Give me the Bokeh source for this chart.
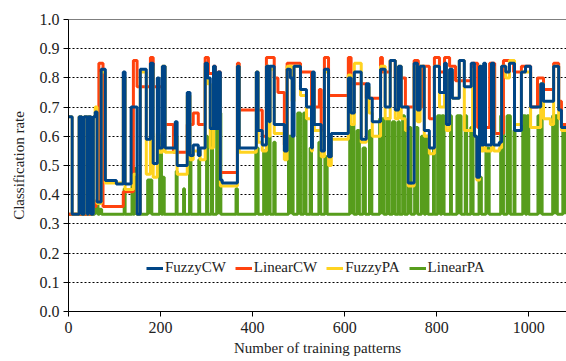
from bokeh.plotting import figure
from bokeh.models import FixedTicker, PrintfTickFormatter, Legend, LegendItem, Span, Range1d
from bokeh.embed import file_html
from bokeh.resources import INLINE

# ---------------- data (step series, value holds until next x) ----------------
fcw_x = [0, 8, 23, 29, 34, 41, 43, 49, 54, 58, 62, 71, 80, 104, 119, 123, 136, 149, 156, 169,
         178, 184, 193, 197, 204, 210, 232, 236, 258, 264, 271, 282, 286, 297, 302, 308, 315, 319,
         325, 330, 334, 367, 371, 408, 412, 421, 430, 436, 438, 447, 469, 475, 482, 486, 490, 504,
         517, 528, 530, 534, 549, 556, 565, 571, 608, 614, 621, 636, 647, 653, 660, 678, 688, 699,
         710, 717, 723, 738, 751, 758, 764, 773, 784, 795, 806, 817, 821, 828, 834, 849, 860, 875,
         882, 887, 893, 897, 902, 906, 919, 924, 936, 941, 950, 958, 969, 984, 993, 1004, 1026,
         1032, 1054, 1065, 1071, 1082]
fcw_y = [0.667, 0.333, 0.667, 0.333, 0.667, 0.333, 0.667, 0.333, 0.667, 0.683, 0.375, 0.83, 0.449,
         0.437, 0.82, 0.437, 0.70, 0.333, 0.83, 0.59, 0.85, 0.507, 0.80, 0.56, 0.84, 0.56, 0.65, 0.50,
         0.75, 0.534, 0.57, 0.534, 0.56, 0.85, 0.80, 0.627, 0.84, 0.627, 0.82, 0.45, 0.44, 0.84, 0.56,
         0.82, 0.62, 0.57, 0.84, 0.65, 0.84, 0.64, 0.55, 0.83, 0.80, 0.60, 0.84, 0.76, 0.70, 0.56,
         0.82, 0.64, 0.55, 0.83, 0.53, 0.61, 0.80, 0.68, 0.82, 0.59, 0.78, 0.73, 0.65, 0.83, 0.70,
         0.86, 0.69, 0.84, 0.70, 0.44, 0.85, 0.69, 0.84, 0.62, 0.56, 0.84, 0.75, 0.85, 0.64, 0.83,
         0.73, 0.86, 0.77, 0.85, 0.60, 0.46, 0.84, 0.57, 0.85, 0.57, 0.85, 0.57, 0.58, 0.84, 0.82,
         0.85, 0.62, 0.82, 0.84, 0.70, 0.78, 0.72, 0.84, 0.69, 0.63, 0.63]

lcw_x = [0, 50, 54, 60, 66, 75, 119, 141, 149, 178, 184, 206, 228, 258, 271, 282, 297, 304, 315,
         319, 325, 330, 367, 371, 421, 430, 447, 455, 469, 475, 504, 528, 545, 549, 556, 565, 608,
         614, 647, 678, 682, 699, 710, 723, 732, 751, 760, 769, 784, 795, 806, 817, 828, 841, 878,
         889, 915, 926, 945, 967, 984, 1004, 1019, 1032, 1054, 1065, 1071, 1082]
lcw_y = [0.333, 0.38, 0.36, 0.38, 0.85, 0.36, 0.41, 0.86, 0.77, 0.87, 0.77, 0.64, 0.545, 0.64,
         0.68, 0.64, 0.87, 0.815, 0.84, 0.78, 0.82, 0.476, 0.85, 0.69, 0.60, 0.87, 0.80, 0.75, 0.57,
         0.85, 0.82, 0.70, 0.76, 0.62, 0.87, 0.74, 0.87, 0.78, 0.73, 0.87, 0.82, 0.86, 0.80, 0.80,
         0.70, 0.86, 0.70, 0.84, 0.66, 0.87, 0.82, 0.87, 0.84, 0.79, 0.85, 0.63, 0.85, 0.61, 0.86,
         0.82, 0.84, 0.70, 0.80, 0.76, 0.85, 0.72, 0.64, 0.64]

fpa_x = [0, 8, 23, 29, 34, 41, 43, 49, 54, 58, 62, 71, 80, 119, 123, 141, 149, 156, 169, 178, 184,
         193, 197, 204, 210, 232, 236, 258, 264, 271, 286, 297, 302, 308, 315, 319, 325, 330, 367,
         371, 408, 412, 421, 430, 436, 438, 447, 469, 475, 486, 490, 504, 517, 528, 530, 534, 549,
         556, 565, 571, 608, 614, 621, 636, 647, 653, 660, 678, 688, 699, 710, 717, 723, 732, 738,
         751, 758, 764, 773, 784, 795, 806, 817, 821, 828, 834, 849, 860, 878, 882, 887, 893, 897,
         902, 906, 919, 924, 936, 941, 950, 958, 969, 984, 993, 1004, 1026, 1032, 1047, 1054, 1065,
         1071, 1082]
fpa_y = [0.667, 0.333, 0.667, 0.333, 0.667, 0.333, 0.667, 0.333, 0.667, 0.70, 0.37, 0.82, 0.44,
         0.80, 0.418, 0.47, 0.333, 0.82, 0.47, 0.84, 0.46, 0.61, 0.545, 0.84, 0.545, 0.60, 0.47,
         0.74, 0.52, 0.55, 0.52, 0.84, 0.78, 0.56, 0.82, 0.64, 0.80, 0.43, 0.84, 0.545, 0.82, 0.58,
         0.55, 0.84, 0.60, 0.83, 0.61, 0.52, 0.84, 0.72, 0.84, 0.74, 0.66, 0.55, 0.80, 0.62, 0.53,
         0.82, 0.50, 0.59, 0.81, 0.64, 0.85, 0.58, 0.77, 0.68, 0.60, 0.84, 0.66, 0.86, 0.66, 0.84,
         0.66, 0.62, 0.43, 0.84, 0.65, 0.84, 0.60, 0.54, 0.84, 0.70, 0.84, 0.62, 0.82, 0.73, 0.86,
         0.62, 0.83, 0.60, 0.45, 0.84, 0.55, 0.84, 0.55, 0.84, 0.55, 0.56, 0.84, 0.80, 0.86, 0.64,
         0.82, 0.82, 0.63, 0.78, 0.66, 0.64, 0.84, 0.66, 0.62, 0.62]

# LinearPA: sits at the 1/3 baseline, with bursts (start, end, height)
lpa_base = 0.333
lpa_start = [57, 67, 121, 138, 143, 172, 198, 205, 234, 250, 263, 283, 300, 310, 322, 364, 407,
             424, 434, 446, 478, 498, 511, 525, 544, 557, 611, 627, 640, 654, 676, 692, 704, 716,
             726, 737, 752, 767, 776, 793, 802, 811, 830, 844, 862, 874, 892, 907, 939, 953, 968,
             987, 996, 1020, 1052, 1074]
lpa_end = [64, 72, 123, 141, 148, 181, 202, 208, 236, 252, 266, 285, 302, 313, 331, 367, 412,
           428, 438, 449, 488, 504, 516, 528, 548, 562, 620, 632, 645, 659, 685, 697, 709, 719,
           730, 744, 759, 773, 781, 795, 808, 816, 832, 853, 865, 879, 897, 914, 945, 960, 970,
           993, 1000, 1029, 1062, 1082]
lpa_high = [0.37, 0.35, 0.42, 0.43, 0.49, 0.45, 0.60, 0.46, 0.48, 0.42, 0.53, 0.52, 0.60, 0.63,
            0.68, 0.42, 0.56, 0.55, 0.60, 0.58, 0.60, 0.68, 0.68, 0.56, 0.58, 0.53, 0.64, 0.62,
            0.56, 0.62, 0.66, 0.66, 0.65, 0.65, 0.67, 0.63, 0.63, 0.60, 0.60, 0.56, 0.67, 0.67,
            0.67, 0.67, 0.67, 0.63, 0.46, 0.56, 0.67, 0.67, 0.62, 0.67, 0.67, 0.67, 0.67, 0.63]

lpa_x, lpa_y = [0], [lpa_base]
for s, e, h in zip(lpa_start, lpa_end, lpa_high):
    lpa_x += [s, e]
    lpa_y += [h, lpa_base]
lpa_y[-1] = lpa_y[-2]  # last burst runs to the right edge

x_ticks = [0, 200, 400, 600, 800, 1000]
y_ticks = [0.0, 0.1, 0.2, 0.3, 0.4, 0.5, 0.6, 0.7, 0.8, 0.9, 1.0]
x_max = 1082
y_max = 1.0

names = ["FuzzyCW", "LinearCW", "FuzzyPA", "LinearPA"]
colors = ["#004586", "#ff420e", "#ffd320", "#579d1c"]

FONT = "'Liberation Serif', 'Times New Roman', serif"

p = figure(width=566, height=361, output_backend="svg", toolbar_location=None,
           x_range=Range1d(0, x_max), y_range=Range1d(0, y_max),
           min_border_left=68, min_border_right=0, min_border_top=19, min_border_bottom=50)
p.outline_line_color = None
p.background_fill_color = "white"

# LinearPA (bottom), filled columns
p.varea_step(x=lpa_x, y1=[lpa_base] * len(lpa_x), y2=lpa_y, step_mode="after",
             fill_color=colors[3])
r_lpa = p.step(lpa_x, lpa_y, mode="after", line_color=colors[3], line_width=3)
r_lcw = p.step(lcw_x, lcw_y, mode="after", line_color=colors[1], line_width=3)
r_fpa = p.step(fpa_x, fpa_y, mode="after", line_color=colors[2], line_width=3)
r_fcw = p.step(fcw_x, fcw_y, mode="after", line_color=colors[0], line_width=3)

# top border
p.add_layout(Span(location=y_max, dimension="width", line_color="black", line_width=1))

# grid
p.xgrid.grid_line_color = None
p.ygrid.ticker = FixedTicker(ticks=y_ticks)
p.ygrid.grid_line_color = "black"
p.ygrid.grid_line_dash = "2 2"
p.ygrid.grid_line_width = 1

# axes
p.xaxis.ticker = FixedTicker(ticks=x_ticks)
p.yaxis.ticker = FixedTicker(ticks=y_ticks)
p.yaxis.formatter = PrintfTickFormatter(format="%.1f")
p.axis.axis_line_color = "black"
p.axis.axis_line_width = 1
p.axis.major_tick_line_color = "black"
p.axis.major_tick_in = 0
p.axis.major_tick_out = 5
p.axis.minor_tick_line_color = None
p.axis.major_label_text_font = FONT
p.axis.major_label_text_font_size = "16px"
p.axis.major_label_text_color = "#222222"
p.axis.axis_label_text_font = FONT
p.axis.axis_label_text_font_size = "15px"
p.axis.axis_label_text_font_style = "normal"
p.axis.axis_label_text_color = "#222222"
p.xaxis.axis_label = "Number of training patterns"
p.yaxis.axis_label = "Classification rate"
p.xaxis.major_label_standoff = 5
p.xaxis.axis_label_standoff = 4
p.yaxis.major_label_standoff = 4
p.yaxis.axis_label_standoff = 10

legend = Legend(items=[LegendItem(label=names[0], renderers=[r_fcw]),
                       LegendItem(label=names[1], renderers=[r_lcw]),
                       LegendItem(label=names[2], renderers=[r_fpa]),
                       LegendItem(label=names[3], renderers=[r_lpa])],
                orientation="horizontal", location=(78, 35),
                background_fill_alpha=0, border_line_color=None,
                padding=0, margin=0, spacing=9, label_standoff=2,
                glyph_width=17, glyph_height=16, label_height=16,
                label_text_font=FONT, label_text_font_size="15px",
                label_text_color="#222222")
p.add_layout(legend, "center")

open("out.html", "w").write(file_html(p, INLINE))
